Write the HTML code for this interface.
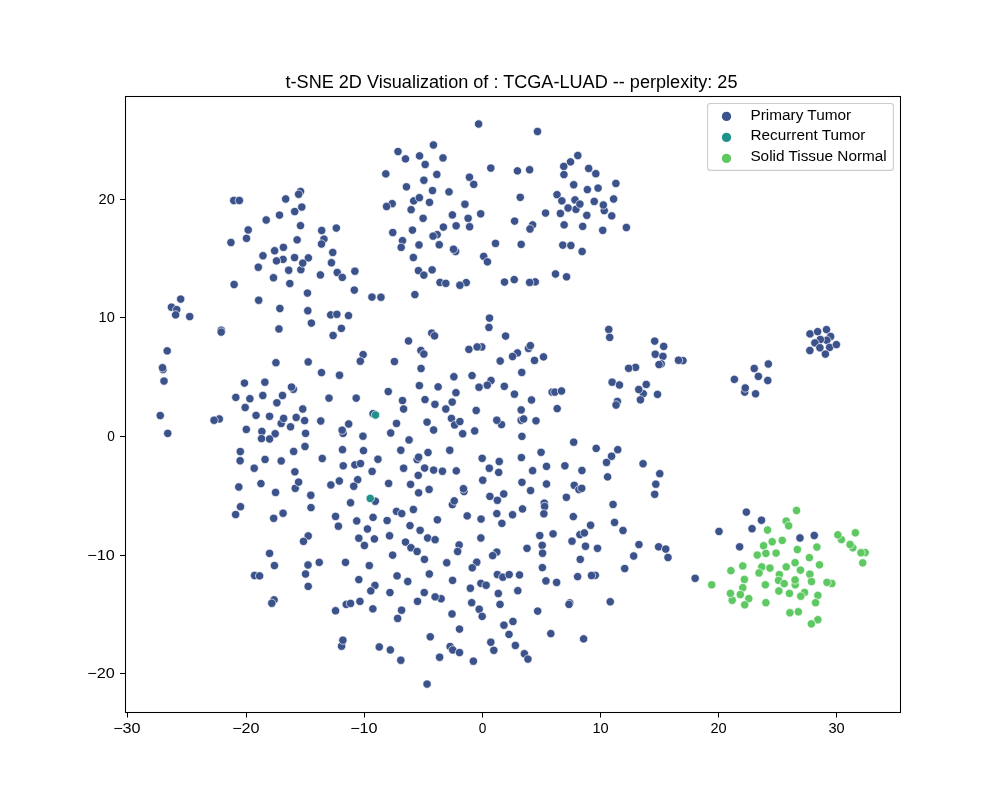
<!DOCTYPE html>
<html><head><meta charset="utf-8"><style>
html,body{margin:0;padding:0;background:#fff;width:1000px;height:800px;overflow:hidden}
svg{display:block;will-change:transform}
text{font-family:"Liberation Sans",sans-serif;fill:#000}
</style></head><body>
<svg width="1000" height="800" viewBox="0 0 1000 800">
<rect width="1000" height="800" fill="#fff"/>
<text x="511.5" y="87.6" text-anchor="middle" font-size="17.5" textLength="452" lengthAdjust="spacingAndGlyphs">t-SNE 2D Visualization of : TCGA-LUAD -- perplexity: 25</text>
<g stroke="#fff" stroke-width="0.667">
<circle cx="233.75" cy="200.50" r="4.167" fill="#3b528b"/>
<circle cx="239.38" cy="200.50" r="4.167" fill="#3b528b"/>
<circle cx="285.69" cy="199.00" r="4.167" fill="#3b528b"/>
<circle cx="279.50" cy="215.12" r="4.167" fill="#3b528b"/>
<circle cx="266.19" cy="220.00" r="4.167" fill="#3b528b"/>
<circle cx="248.19" cy="229.94" r="4.167" fill="#3b528b"/>
<circle cx="246.50" cy="238.38" r="4.167" fill="#3b528b"/>
<circle cx="230.94" cy="242.50" r="4.167" fill="#3b528b"/>
<circle cx="283.44" cy="247.38" r="4.167" fill="#3b528b"/>
<circle cx="274.62" cy="250.75" r="4.167" fill="#3b528b"/>
<circle cx="262.95" cy="255.75" r="4.167" fill="#3b528b"/>
<circle cx="300.50" cy="191.50" r="4.167" fill="#3b528b"/>
<circle cx="298.62" cy="194.31" r="4.167" fill="#3b528b"/>
<circle cx="301.81" cy="207.06" r="4.167" fill="#3b528b"/>
<circle cx="294.69" cy="211.56" r="4.167" fill="#3b528b"/>
<circle cx="300.50" cy="225.62" r="4.167" fill="#3b528b"/>
<circle cx="297.12" cy="239.88" r="4.167" fill="#3b528b"/>
<circle cx="321.69" cy="230.50" r="4.167" fill="#3b528b"/>
<circle cx="336.31" cy="228.06" r="4.167" fill="#3b528b"/>
<circle cx="323.94" cy="239.12" r="4.167" fill="#3b528b"/>
<circle cx="321.50" cy="244.00" r="4.167" fill="#3b528b"/>
<circle cx="332.75" cy="252.44" r="4.167" fill="#3b528b"/>
<circle cx="433.44" cy="145.00" r="4.167" fill="#3b528b"/>
<circle cx="398.00" cy="151.56" r="4.167" fill="#3b528b"/>
<circle cx="405.50" cy="158.88" r="4.167" fill="#3b528b"/>
<circle cx="419.56" cy="155.88" r="4.167" fill="#3b528b"/>
<circle cx="443.00" cy="157.94" r="4.167" fill="#3b528b"/>
<circle cx="425.19" cy="164.50" r="4.167" fill="#3b528b"/>
<circle cx="385.81" cy="173.88" r="4.167" fill="#3b528b"/>
<circle cx="436.81" cy="174.44" r="4.167" fill="#3b528b"/>
<circle cx="423.88" cy="180.25" r="4.167" fill="#3b528b"/>
<circle cx="406.44" cy="186.81" r="4.167" fill="#3b528b"/>
<circle cx="432.50" cy="190.56" r="4.167" fill="#3b528b"/>
<circle cx="413.75" cy="200.88" r="4.167" fill="#3b528b"/>
<circle cx="419.38" cy="197.69" r="4.167" fill="#3b528b"/>
<circle cx="429.50" cy="202.38" r="4.167" fill="#3b528b"/>
<circle cx="392.19" cy="203.69" r="4.167" fill="#3b528b"/>
<circle cx="386.56" cy="206.50" r="4.167" fill="#3b528b"/>
<circle cx="411.12" cy="209.69" r="4.167" fill="#3b528b"/>
<circle cx="423.12" cy="218.31" r="4.167" fill="#3b528b"/>
<circle cx="443.38" cy="227.12" r="4.167" fill="#3b528b"/>
<circle cx="392.75" cy="232.56" r="4.167" fill="#3b528b"/>
<circle cx="412.44" cy="230.12" r="4.167" fill="#3b528b"/>
<circle cx="437.19" cy="234.62" r="4.167" fill="#3b528b"/>
<circle cx="433.06" cy="236.12" r="4.167" fill="#3b528b"/>
<circle cx="402.50" cy="240.62" r="4.167" fill="#3b528b"/>
<circle cx="401.19" cy="247.38" r="4.167" fill="#3b528b"/>
<circle cx="419.00" cy="244.94" r="4.167" fill="#3b528b"/>
<circle cx="439.25" cy="244.75" r="4.167" fill="#3b528b"/>
<circle cx="478.62" cy="124.00" r="4.167" fill="#3b528b"/>
<circle cx="537.50" cy="131.50" r="4.167" fill="#3b528b"/>
<circle cx="490.81" cy="168.06" r="4.167" fill="#3b528b"/>
<circle cx="517.44" cy="170.88" r="4.167" fill="#3b528b"/>
<circle cx="529.62" cy="169.75" r="4.167" fill="#3b528b"/>
<circle cx="469.44" cy="177.25" r="4.167" fill="#3b528b"/>
<circle cx="473.75" cy="184.38" r="4.167" fill="#3b528b"/>
<circle cx="449.00" cy="191.88" r="4.167" fill="#3b528b"/>
<circle cx="464.94" cy="204.25" r="4.167" fill="#3b528b"/>
<circle cx="452.38" cy="214.94" r="4.167" fill="#3b528b"/>
<circle cx="468.12" cy="218.31" r="4.167" fill="#3b528b"/>
<circle cx="480.69" cy="213.81" r="4.167" fill="#3b528b"/>
<circle cx="456.12" cy="225.81" r="4.167" fill="#3b528b"/>
<circle cx="469.62" cy="226.75" r="4.167" fill="#3b528b"/>
<circle cx="520.25" cy="197.31" r="4.167" fill="#3b528b"/>
<circle cx="514.62" cy="221.12" r="4.167" fill="#3b528b"/>
<circle cx="532.62" cy="224.88" r="4.167" fill="#3b528b"/>
<circle cx="530.00" cy="229.00" r="4.167" fill="#3b528b"/>
<circle cx="545.56" cy="213.06" r="4.167" fill="#3b528b"/>
<circle cx="495.50" cy="243.44" r="4.167" fill="#3b528b"/>
<circle cx="521.19" cy="244.38" r="4.167" fill="#3b528b"/>
<circle cx="455.56" cy="251.50" r="4.167" fill="#3b528b"/>
<circle cx="453.50" cy="249.25" r="4.167" fill="#3b528b"/>
<circle cx="577.81" cy="155.50" r="4.167" fill="#3b528b"/>
<circle cx="570.50" cy="161.88" r="4.167" fill="#3b528b"/>
<circle cx="563.75" cy="166.38" r="4.167" fill="#3b528b"/>
<circle cx="588.69" cy="168.44" r="4.167" fill="#3b528b"/>
<circle cx="563.94" cy="174.62" r="4.167" fill="#3b528b"/>
<circle cx="573.69" cy="184.75" r="4.167" fill="#3b528b"/>
<circle cx="587.38" cy="189.62" r="4.167" fill="#3b528b"/>
<circle cx="557.00" cy="194.69" r="4.167" fill="#3b528b"/>
<circle cx="561.88" cy="200.88" r="4.167" fill="#3b528b"/>
<circle cx="575.00" cy="199.94" r="4.167" fill="#3b528b"/>
<circle cx="575.94" cy="209.31" r="4.167" fill="#3b528b"/>
<circle cx="568.06" cy="208.00" r="4.167" fill="#3b528b"/>
<circle cx="579.88" cy="204.06" r="4.167" fill="#3b528b"/>
<circle cx="560.38" cy="213.44" r="4.167" fill="#3b528b"/>
<circle cx="586.81" cy="215.31" r="4.167" fill="#3b528b"/>
<circle cx="564.12" cy="224.88" r="4.167" fill="#3b528b"/>
<circle cx="582.69" cy="226.38" r="4.167" fill="#3b528b"/>
<circle cx="562.81" cy="245.12" r="4.167" fill="#3b528b"/>
<circle cx="570.88" cy="245.50" r="4.167" fill="#3b528b"/>
<circle cx="582.12" cy="251.50" r="4.167" fill="#3b528b"/>
<circle cx="595.81" cy="173.69" r="4.167" fill="#3b528b"/>
<circle cx="615.88" cy="183.44" r="4.167" fill="#3b528b"/>
<circle cx="598.06" cy="188.12" r="4.167" fill="#3b528b"/>
<circle cx="594.25" cy="201.45" r="4.167" fill="#3b528b"/>
<circle cx="613.62" cy="199.00" r="4.167" fill="#3b528b"/>
<circle cx="604.25" cy="210.62" r="4.167" fill="#3b528b"/>
<circle cx="603.31" cy="205.00" r="4.167" fill="#3b528b"/>
<circle cx="611.75" cy="215.88" r="4.167" fill="#3b528b"/>
<circle cx="602.75" cy="230.31" r="4.167" fill="#3b528b"/>
<circle cx="626.38" cy="227.50" r="4.167" fill="#3b528b"/>
<circle cx="283.06" cy="259.38" r="4.167" fill="#3b528b"/>
<circle cx="276.50" cy="260.88" r="4.167" fill="#3b528b"/>
<circle cx="294.55" cy="257.55" r="4.167" fill="#3b528b"/>
<circle cx="258.31" cy="267.25" r="4.167" fill="#3b528b"/>
<circle cx="288.69" cy="270.25" r="4.167" fill="#3b528b"/>
<circle cx="273.50" cy="277.75" r="4.167" fill="#3b528b"/>
<circle cx="289.81" cy="283.56" r="4.167" fill="#3b528b"/>
<circle cx="234.12" cy="284.50" r="4.167" fill="#3b528b"/>
<circle cx="180.69" cy="299.12" r="4.167" fill="#3b528b"/>
<circle cx="171.50" cy="307.19" r="4.167" fill="#3b528b"/>
<circle cx="176.75" cy="309.62" r="4.167" fill="#3b528b"/>
<circle cx="175.62" cy="314.88" r="4.167" fill="#3b528b"/>
<circle cx="189.69" cy="316.56" r="4.167" fill="#3b528b"/>
<circle cx="258.69" cy="300.25" r="4.167" fill="#3b528b"/>
<circle cx="279.88" cy="308.50" r="4.167" fill="#3b528b"/>
<circle cx="221.19" cy="330.25" r="4.167" fill="#3b528b"/>
<circle cx="221.19" cy="332.12" r="4.167" fill="#3b528b"/>
<circle cx="278.94" cy="328.94" r="4.167" fill="#3b528b"/>
<circle cx="167.19" cy="350.88" r="4.167" fill="#3b528b"/>
<circle cx="163.06" cy="369.62" r="4.167" fill="#3b528b"/>
<circle cx="162.50" cy="367.75" r="4.167" fill="#3b528b"/>
<circle cx="164.00" cy="381.06" r="4.167" fill="#3b528b"/>
<circle cx="275.94" cy="362.69" r="4.167" fill="#3b528b"/>
<circle cx="244.44" cy="383.12" r="4.167" fill="#3b528b"/>
<circle cx="264.88" cy="382.19" r="4.167" fill="#3b528b"/>
<circle cx="293.38" cy="389.31" r="4.167" fill="#3b528b"/>
<circle cx="291.50" cy="387.06" r="4.167" fill="#3b528b"/>
<circle cx="235.81" cy="397.38" r="4.167" fill="#3b528b"/>
<circle cx="249.88" cy="398.69" r="4.167" fill="#3b528b"/>
<circle cx="262.81" cy="395.50" r="4.167" fill="#3b528b"/>
<circle cx="282.50" cy="395.50" r="4.167" fill="#3b528b"/>
<circle cx="276.88" cy="402.81" r="4.167" fill="#3b528b"/>
<circle cx="308.38" cy="257.88" r="4.167" fill="#3b528b"/>
<circle cx="413.38" cy="257.50" r="4.167" fill="#3b528b"/>
<circle cx="300.88" cy="269.69" r="4.167" fill="#3b528b"/>
<circle cx="302.75" cy="263.12" r="4.167" fill="#3b528b"/>
<circle cx="331.44" cy="262.75" r="4.167" fill="#3b528b"/>
<circle cx="320.38" cy="274.94" r="4.167" fill="#3b528b"/>
<circle cx="337.25" cy="272.50" r="4.167" fill="#3b528b"/>
<circle cx="342.31" cy="277.38" r="4.167" fill="#3b528b"/>
<circle cx="354.88" cy="271.19" r="4.167" fill="#3b528b"/>
<circle cx="418.44" cy="270.62" r="4.167" fill="#3b528b"/>
<circle cx="423.88" cy="275.12" r="4.167" fill="#3b528b"/>
<circle cx="432.12" cy="269.88" r="4.167" fill="#3b528b"/>
<circle cx="440.00" cy="282.44" r="4.167" fill="#3b528b"/>
<circle cx="307.44" cy="293.12" r="4.167" fill="#3b528b"/>
<circle cx="354.31" cy="290.12" r="4.167" fill="#3b528b"/>
<circle cx="371.94" cy="297.06" r="4.167" fill="#3b528b"/>
<circle cx="380.94" cy="297.25" r="4.167" fill="#3b528b"/>
<circle cx="414.88" cy="294.62" r="4.167" fill="#3b528b"/>
<circle cx="307.81" cy="310.75" r="4.167" fill="#3b528b"/>
<circle cx="330.69" cy="314.88" r="4.167" fill="#3b528b"/>
<circle cx="336.88" cy="314.31" r="4.167" fill="#3b528b"/>
<circle cx="348.50" cy="315.62" r="4.167" fill="#3b528b"/>
<circle cx="311.38" cy="323.12" r="4.167" fill="#3b528b"/>
<circle cx="341.38" cy="328.38" r="4.167" fill="#3b528b"/>
<circle cx="333.12" cy="335.50" r="4.167" fill="#3b528b"/>
<circle cx="431.75" cy="333.06" r="4.167" fill="#3b528b"/>
<circle cx="434.56" cy="335.88" r="4.167" fill="#3b528b"/>
<circle cx="408.50" cy="340.94" r="4.167" fill="#3b528b"/>
<circle cx="420.88" cy="350.50" r="4.167" fill="#3b528b"/>
<circle cx="423.88" cy="354.06" r="4.167" fill="#3b528b"/>
<circle cx="363.12" cy="354.62" r="4.167" fill="#3b528b"/>
<circle cx="360.31" cy="361.19" r="4.167" fill="#3b528b"/>
<circle cx="394.44" cy="361.56" r="4.167" fill="#3b528b"/>
<circle cx="308.19" cy="361.94" r="4.167" fill="#3b528b"/>
<circle cx="321.50" cy="372.62" r="4.167" fill="#3b528b"/>
<circle cx="339.50" cy="375.25" r="4.167" fill="#3b528b"/>
<circle cx="421.06" cy="368.50" r="4.167" fill="#3b528b"/>
<circle cx="419.38" cy="385.56" r="4.167" fill="#3b528b"/>
<circle cx="438.12" cy="386.88" r="4.167" fill="#3b528b"/>
<circle cx="388.25" cy="391.56" r="4.167" fill="#3b528b"/>
<circle cx="329.00" cy="398.12" r="4.167" fill="#3b528b"/>
<circle cx="356.19" cy="398.12" r="4.167" fill="#3b528b"/>
<circle cx="402.50" cy="400.56" r="4.167" fill="#3b528b"/>
<circle cx="425.00" cy="399.62" r="4.167" fill="#3b528b"/>
<circle cx="434.94" cy="404.31" r="4.167" fill="#3b528b"/>
<circle cx="483.69" cy="256.38" r="4.167" fill="#3b528b"/>
<circle cx="487.44" cy="261.81" r="4.167" fill="#3b528b"/>
<circle cx="445.81" cy="283.38" r="4.167" fill="#3b528b"/>
<circle cx="466.25" cy="282.62" r="4.167" fill="#3b528b"/>
<circle cx="459.88" cy="285.25" r="4.167" fill="#3b528b"/>
<circle cx="504.50" cy="282.06" r="4.167" fill="#3b528b"/>
<circle cx="514.25" cy="279.62" r="4.167" fill="#3b528b"/>
<circle cx="535.25" cy="281.88" r="4.167" fill="#3b528b"/>
<circle cx="529.62" cy="282.44" r="4.167" fill="#3b528b"/>
<circle cx="555.50" cy="274.00" r="4.167" fill="#3b528b"/>
<circle cx="566.56" cy="276.81" r="4.167" fill="#3b528b"/>
<circle cx="489.50" cy="318.06" r="4.167" fill="#3b528b"/>
<circle cx="488.94" cy="327.44" r="4.167" fill="#3b528b"/>
<circle cx="505.62" cy="336.06" r="4.167" fill="#3b528b"/>
<circle cx="468.88" cy="349.38" r="4.167" fill="#3b528b"/>
<circle cx="481.81" cy="346.94" r="4.167" fill="#3b528b"/>
<circle cx="477.12" cy="346.94" r="4.167" fill="#3b528b"/>
<circle cx="528.50" cy="348.44" r="4.167" fill="#3b528b"/>
<circle cx="530.38" cy="345.62" r="4.167" fill="#3b528b"/>
<circle cx="517.44" cy="352.94" r="4.167" fill="#3b528b"/>
<circle cx="512.56" cy="356.50" r="4.167" fill="#3b528b"/>
<circle cx="500.19" cy="361.00" r="4.167" fill="#3b528b"/>
<circle cx="534.50" cy="360.44" r="4.167" fill="#3b528b"/>
<circle cx="543.50" cy="356.88" r="4.167" fill="#3b528b"/>
<circle cx="453.88" cy="376.75" r="4.167" fill="#3b528b"/>
<circle cx="472.06" cy="375.62" r="4.167" fill="#3b528b"/>
<circle cx="491.00" cy="380.50" r="4.167" fill="#3b528b"/>
<circle cx="487.25" cy="385.19" r="4.167" fill="#3b528b"/>
<circle cx="479.00" cy="387.25" r="4.167" fill="#3b528b"/>
<circle cx="504.31" cy="386.31" r="4.167" fill="#3b528b"/>
<circle cx="521.75" cy="372.44" r="4.167" fill="#3b528b"/>
<circle cx="514.44" cy="394.19" r="4.167" fill="#3b528b"/>
<circle cx="455.94" cy="392.69" r="4.167" fill="#3b528b"/>
<circle cx="452.19" cy="402.06" r="4.167" fill="#3b528b"/>
<circle cx="531.50" cy="400.00" r="4.167" fill="#3b528b"/>
<circle cx="552.12" cy="392.12" r="4.167" fill="#3b528b"/>
<circle cx="554.94" cy="392.12" r="4.167" fill="#3b528b"/>
<circle cx="561.50" cy="391.00" r="4.167" fill="#3b528b"/>
<circle cx="608.75" cy="329.50" r="4.167" fill="#3b528b"/>
<circle cx="609.69" cy="337.38" r="4.167" fill="#3b528b"/>
<circle cx="654.69" cy="341.12" r="4.167" fill="#3b528b"/>
<circle cx="663.69" cy="346.38" r="4.167" fill="#3b528b"/>
<circle cx="655.25" cy="354.25" r="4.167" fill="#3b528b"/>
<circle cx="662.94" cy="356.31" r="4.167" fill="#3b528b"/>
<circle cx="661.25" cy="363.85" r="4.167" fill="#3b528b"/>
<circle cx="659.00" cy="364.56" r="4.167" fill="#3b528b"/>
<circle cx="683.00" cy="360.62" r="4.167" fill="#3b528b"/>
<circle cx="678.50" cy="360.25" r="4.167" fill="#3b528b"/>
<circle cx="635.56" cy="367.38" r="4.167" fill="#3b528b"/>
<circle cx="628.62" cy="368.31" r="4.167" fill="#3b528b"/>
<circle cx="612.12" cy="382.19" r="4.167" fill="#3b528b"/>
<circle cx="619.44" cy="385.00" r="4.167" fill="#3b528b"/>
<circle cx="646.25" cy="384.44" r="4.167" fill="#3b528b"/>
<circle cx="643.25" cy="393.62" r="4.167" fill="#3b528b"/>
<circle cx="638.75" cy="389.50" r="4.167" fill="#3b528b"/>
<circle cx="640.44" cy="399.81" r="4.167" fill="#3b528b"/>
<circle cx="657.50" cy="394.38" r="4.167" fill="#3b528b"/>
<circle cx="617.38" cy="401.50" r="4.167" fill="#3b528b"/>
<circle cx="616.05" cy="405.05" r="4.167" fill="#3b528b"/>
<circle cx="734.38" cy="379.38" r="4.167" fill="#3b528b"/>
<circle cx="810.00" cy="333.88" r="4.167" fill="#3b528b"/>
<circle cx="817.65" cy="331.62" r="4.167" fill="#3b528b"/>
<circle cx="826.50" cy="329.60" r="4.167" fill="#3b528b"/>
<circle cx="830.62" cy="336.50" r="4.167" fill="#3b528b"/>
<circle cx="826.88" cy="340.25" r="4.167" fill="#3b528b"/>
<circle cx="820.35" cy="339.50" r="4.167" fill="#3b528b"/>
<circle cx="814.88" cy="342.88" r="4.167" fill="#3b528b"/>
<circle cx="819.90" cy="347.75" r="4.167" fill="#3b528b"/>
<circle cx="829.65" cy="347.38" r="4.167" fill="#3b528b"/>
<circle cx="836.40" cy="344.60" r="4.167" fill="#3b528b"/>
<circle cx="809.85" cy="350.52" r="4.167" fill="#3b528b"/>
<circle cx="825.38" cy="354.12" r="4.167" fill="#3b528b"/>
<circle cx="768.31" cy="364.00" r="4.167" fill="#3b528b"/>
<circle cx="754.25" cy="368.50" r="4.167" fill="#3b528b"/>
<circle cx="758.38" cy="376.38" r="4.167" fill="#3b528b"/>
<circle cx="767.75" cy="380.50" r="4.167" fill="#3b528b"/>
<circle cx="744.69" cy="392.12" r="4.167" fill="#3b528b"/>
<circle cx="745.25" cy="388.00" r="4.167" fill="#3b528b"/>
<circle cx="755.56" cy="393.81" r="4.167" fill="#3b528b"/>
<circle cx="245.19" cy="407.50" r="4.167" fill="#3b528b"/>
<circle cx="160.25" cy="415.56" r="4.167" fill="#3b528b"/>
<circle cx="167.75" cy="433.38" r="4.167" fill="#3b528b"/>
<circle cx="219.31" cy="418.94" r="4.167" fill="#3b528b"/>
<circle cx="214.06" cy="420.25" r="4.167" fill="#3b528b"/>
<circle cx="256.06" cy="415.38" r="4.167" fill="#3b528b"/>
<circle cx="269.56" cy="416.31" r="4.167" fill="#3b528b"/>
<circle cx="281.19" cy="423.44" r="4.167" fill="#3b528b"/>
<circle cx="283.62" cy="418.38" r="4.167" fill="#3b528b"/>
<circle cx="290.56" cy="426.81" r="4.167" fill="#3b528b"/>
<circle cx="246.31" cy="429.44" r="4.167" fill="#3b528b"/>
<circle cx="261.88" cy="431.50" r="4.167" fill="#3b528b"/>
<circle cx="275.19" cy="433.75" r="4.167" fill="#3b528b"/>
<circle cx="261.50" cy="438.62" r="4.167" fill="#3b528b"/>
<circle cx="269.56" cy="439.00" r="4.167" fill="#3b528b"/>
<circle cx="240.31" cy="451.56" r="4.167" fill="#3b528b"/>
<circle cx="240.12" cy="460.75" r="4.167" fill="#3b528b"/>
<circle cx="265.06" cy="459.44" r="4.167" fill="#3b528b"/>
<circle cx="281.19" cy="460.94" r="4.167" fill="#3b528b"/>
<circle cx="254.19" cy="468.25" r="4.167" fill="#3b528b"/>
<circle cx="238.81" cy="487.00" r="4.167" fill="#3b528b"/>
<circle cx="260.94" cy="483.62" r="4.167" fill="#3b528b"/>
<circle cx="275.56" cy="492.44" r="4.167" fill="#3b528b"/>
<circle cx="240.50" cy="506.69" r="4.167" fill="#3b528b"/>
<circle cx="235.62" cy="514.56" r="4.167" fill="#3b528b"/>
<circle cx="283.06" cy="513.25" r="4.167" fill="#3b528b"/>
<circle cx="273.69" cy="518.31" r="4.167" fill="#3b528b"/>
<circle cx="269.56" cy="553.38" r="4.167" fill="#3b528b"/>
<circle cx="302.75" cy="409.00" r="4.167" fill="#3b528b"/>
<circle cx="403.62" cy="409.00" r="4.167" fill="#3b528b"/>
<circle cx="296.19" cy="417.44" r="4.167" fill="#3b528b"/>
<circle cx="304.62" cy="420.62" r="4.167" fill="#3b528b"/>
<circle cx="320.75" cy="421.00" r="4.167" fill="#3b528b"/>
<circle cx="373.06" cy="413.69" r="4.167" fill="#3b528b"/>
<circle cx="348.69" cy="424.00" r="4.167" fill="#3b528b"/>
<circle cx="396.50" cy="423.44" r="4.167" fill="#3b528b"/>
<circle cx="427.06" cy="422.12" r="4.167" fill="#3b528b"/>
<circle cx="433.62" cy="430.00" r="4.167" fill="#3b528b"/>
<circle cx="343.06" cy="433.38" r="4.167" fill="#3b528b"/>
<circle cx="342.12" cy="430.19" r="4.167" fill="#3b528b"/>
<circle cx="305.56" cy="433.38" r="4.167" fill="#3b528b"/>
<circle cx="362.94" cy="436.19" r="4.167" fill="#3b528b"/>
<circle cx="390.69" cy="433.00" r="4.167" fill="#3b528b"/>
<circle cx="409.06" cy="439.94" r="4.167" fill="#3b528b"/>
<circle cx="305.00" cy="446.50" r="4.167" fill="#3b528b"/>
<circle cx="293.65" cy="451.45" r="4.167" fill="#3b528b"/>
<circle cx="342.50" cy="449.69" r="4.167" fill="#3b528b"/>
<circle cx="363.50" cy="450.62" r="4.167" fill="#3b528b"/>
<circle cx="400.81" cy="450.25" r="4.167" fill="#3b528b"/>
<circle cx="428.00" cy="452.50" r="4.167" fill="#3b528b"/>
<circle cx="322.25" cy="458.50" r="4.167" fill="#3b528b"/>
<circle cx="377.94" cy="459.25" r="4.167" fill="#3b528b"/>
<circle cx="417.12" cy="459.62" r="4.167" fill="#3b528b"/>
<circle cx="418.62" cy="457.19" r="4.167" fill="#3b528b"/>
<circle cx="343.25" cy="465.81" r="4.167" fill="#3b528b"/>
<circle cx="354.88" cy="464.88" r="4.167" fill="#3b528b"/>
<circle cx="360.50" cy="463.56" r="4.167" fill="#3b528b"/>
<circle cx="372.12" cy="471.44" r="4.167" fill="#3b528b"/>
<circle cx="403.62" cy="468.25" r="4.167" fill="#3b528b"/>
<circle cx="424.62" cy="468.06" r="4.167" fill="#3b528b"/>
<circle cx="433.62" cy="470.12" r="4.167" fill="#3b528b"/>
<circle cx="442.44" cy="471.25" r="4.167" fill="#3b528b"/>
<circle cx="294.88" cy="471.81" r="4.167" fill="#3b528b"/>
<circle cx="295.25" cy="488.31" r="4.167" fill="#3b528b"/>
<circle cx="298.62" cy="482.12" r="4.167" fill="#3b528b"/>
<circle cx="330.88" cy="484.94" r="4.167" fill="#3b528b"/>
<circle cx="339.31" cy="481.00" r="4.167" fill="#3b528b"/>
<circle cx="357.69" cy="479.69" r="4.167" fill="#3b528b"/>
<circle cx="353.75" cy="486.25" r="4.167" fill="#3b528b"/>
<circle cx="388.62" cy="483.44" r="4.167" fill="#3b528b"/>
<circle cx="418.25" cy="475.38" r="4.167" fill="#3b528b"/>
<circle cx="410.56" cy="484.38" r="4.167" fill="#3b528b"/>
<circle cx="429.12" cy="489.44" r="4.167" fill="#3b528b"/>
<circle cx="418.62" cy="492.81" r="4.167" fill="#3b528b"/>
<circle cx="310.81" cy="495.25" r="4.167" fill="#3b528b"/>
<circle cx="311.00" cy="507.62" r="4.167" fill="#3b528b"/>
<circle cx="350.56" cy="502.75" r="4.167" fill="#3b528b"/>
<circle cx="375.31" cy="501.25" r="4.167" fill="#3b528b"/>
<circle cx="396.50" cy="511.38" r="4.167" fill="#3b528b"/>
<circle cx="401.75" cy="513.62" r="4.167" fill="#3b528b"/>
<circle cx="413.38" cy="509.50" r="4.167" fill="#3b528b"/>
<circle cx="335.56" cy="516.44" r="4.167" fill="#3b528b"/>
<circle cx="338.38" cy="526.19" r="4.167" fill="#3b528b"/>
<circle cx="356.75" cy="520.94" r="4.167" fill="#3b528b"/>
<circle cx="373.06" cy="517.38" r="4.167" fill="#3b528b"/>
<circle cx="387.12" cy="520.56" r="4.167" fill="#3b528b"/>
<circle cx="367.44" cy="529.00" r="4.167" fill="#3b528b"/>
<circle cx="410.00" cy="525.62" r="4.167" fill="#3b528b"/>
<circle cx="420.12" cy="530.31" r="4.167" fill="#3b528b"/>
<circle cx="437.38" cy="519.81" r="4.167" fill="#3b528b"/>
<circle cx="308.19" cy="535.94" r="4.167" fill="#3b528b"/>
<circle cx="303.50" cy="541.38" r="4.167" fill="#3b528b"/>
<circle cx="358.81" cy="538.19" r="4.167" fill="#3b528b"/>
<circle cx="374.38" cy="538.94" r="4.167" fill="#3b528b"/>
<circle cx="389.56" cy="535.75" r="4.167" fill="#3b528b"/>
<circle cx="364.44" cy="545.50" r="4.167" fill="#3b528b"/>
<circle cx="405.50" cy="542.12" r="4.167" fill="#3b528b"/>
<circle cx="410.94" cy="547.75" r="4.167" fill="#3b528b"/>
<circle cx="417.12" cy="551.50" r="4.167" fill="#3b528b"/>
<circle cx="427.62" cy="538.00" r="4.167" fill="#3b528b"/>
<circle cx="435.12" cy="539.69" r="4.167" fill="#3b528b"/>
<circle cx="392.65" cy="555.15" r="4.167" fill="#3b528b"/>
<circle cx="445.81" cy="409.00" r="4.167" fill="#3b528b"/>
<circle cx="476.19" cy="410.50" r="4.167" fill="#3b528b"/>
<circle cx="521.19" cy="409.94" r="4.167" fill="#3b528b"/>
<circle cx="557.19" cy="408.62" r="4.167" fill="#3b528b"/>
<circle cx="451.44" cy="418.38" r="4.167" fill="#3b528b"/>
<circle cx="454.62" cy="424.94" r="4.167" fill="#3b528b"/>
<circle cx="459.88" cy="421.56" r="4.167" fill="#3b528b"/>
<circle cx="501.50" cy="424.56" r="4.167" fill="#3b528b"/>
<circle cx="496.81" cy="420.25" r="4.167" fill="#3b528b"/>
<circle cx="521.19" cy="420.25" r="4.167" fill="#3b528b"/>
<circle cx="523.62" cy="418.94" r="4.167" fill="#3b528b"/>
<circle cx="536.00" cy="420.81" r="4.167" fill="#3b528b"/>
<circle cx="474.69" cy="430.94" r="4.167" fill="#3b528b"/>
<circle cx="462.69" cy="433.75" r="4.167" fill="#3b528b"/>
<circle cx="521.94" cy="436.38" r="4.167" fill="#3b528b"/>
<circle cx="573.69" cy="442.19" r="4.167" fill="#3b528b"/>
<circle cx="449.75" cy="450.25" r="4.167" fill="#3b528b"/>
<circle cx="541.06" cy="452.31" r="4.167" fill="#3b528b"/>
<circle cx="482.19" cy="458.31" r="4.167" fill="#3b528b"/>
<circle cx="499.25" cy="461.50" r="4.167" fill="#3b528b"/>
<circle cx="521.38" cy="457.56" r="4.167" fill="#3b528b"/>
<circle cx="489.31" cy="468.25" r="4.167" fill="#3b528b"/>
<circle cx="498.69" cy="472.38" r="4.167" fill="#3b528b"/>
<circle cx="532.62" cy="470.69" r="4.167" fill="#3b528b"/>
<circle cx="546.50" cy="466.38" r="4.167" fill="#3b528b"/>
<circle cx="564.88" cy="465.81" r="4.167" fill="#3b528b"/>
<circle cx="581.94" cy="470.50" r="4.167" fill="#3b528b"/>
<circle cx="456.31" cy="470.88" r="4.167" fill="#3b528b"/>
<circle cx="482.75" cy="480.25" r="4.167" fill="#3b528b"/>
<circle cx="521.94" cy="482.31" r="4.167" fill="#3b528b"/>
<circle cx="546.50" cy="484.00" r="4.167" fill="#3b528b"/>
<circle cx="530.56" cy="490.56" r="4.167" fill="#3b528b"/>
<circle cx="574.25" cy="485.31" r="4.167" fill="#3b528b"/>
<circle cx="578.94" cy="489.62" r="4.167" fill="#3b528b"/>
<circle cx="581.75" cy="488.31" r="4.167" fill="#3b528b"/>
<circle cx="464.00" cy="491.50" r="4.167" fill="#3b528b"/>
<circle cx="463.44" cy="488.69" r="4.167" fill="#3b528b"/>
<circle cx="489.88" cy="496.38" r="4.167" fill="#3b528b"/>
<circle cx="503.75" cy="493.94" r="4.167" fill="#3b528b"/>
<circle cx="497.38" cy="500.31" r="4.167" fill="#3b528b"/>
<circle cx="566.38" cy="497.31" r="4.167" fill="#3b528b"/>
<circle cx="452.38" cy="504.62" r="4.167" fill="#3b528b"/>
<circle cx="454.25" cy="500.88" r="4.167" fill="#3b528b"/>
<circle cx="544.25" cy="503.12" r="4.167" fill="#3b528b"/>
<circle cx="544.62" cy="506.50" r="4.167" fill="#3b528b"/>
<circle cx="522.50" cy="508.94" r="4.167" fill="#3b528b"/>
<circle cx="543.88" cy="513.81" r="4.167" fill="#3b528b"/>
<circle cx="467.19" cy="515.88" r="4.167" fill="#3b528b"/>
<circle cx="481.06" cy="519.06" r="4.167" fill="#3b528b"/>
<circle cx="496.81" cy="513.62" r="4.167" fill="#3b528b"/>
<circle cx="512.56" cy="514.75" r="4.167" fill="#3b528b"/>
<circle cx="501.88" cy="523.38" r="4.167" fill="#3b528b"/>
<circle cx="573.31" cy="516.62" r="4.167" fill="#3b528b"/>
<circle cx="590.56" cy="525.25" r="4.167" fill="#3b528b"/>
<circle cx="579.88" cy="534.62" r="4.167" fill="#3b528b"/>
<circle cx="584.38" cy="532.94" r="4.167" fill="#3b528b"/>
<circle cx="539.75" cy="535.56" r="4.167" fill="#3b528b"/>
<circle cx="553.06" cy="533.88" r="4.167" fill="#3b528b"/>
<circle cx="480.88" cy="538.00" r="4.167" fill="#3b528b"/>
<circle cx="572.00" cy="541.19" r="4.167" fill="#3b528b"/>
<circle cx="585.50" cy="546.25" r="4.167" fill="#3b528b"/>
<circle cx="459.12" cy="544.94" r="4.167" fill="#3b528b"/>
<circle cx="457.62" cy="551.50" r="4.167" fill="#3b528b"/>
<circle cx="496.81" cy="552.06" r="4.167" fill="#3b528b"/>
<circle cx="492.65" cy="555.65" r="4.167" fill="#3b528b"/>
<circle cx="527.00" cy="548.31" r="4.167" fill="#3b528b"/>
<circle cx="542.19" cy="545.31" r="4.167" fill="#3b528b"/>
<circle cx="542.55" cy="553.25" r="4.167" fill="#3b528b"/>
<circle cx="596.19" cy="448.38" r="4.167" fill="#3b528b"/>
<circle cx="617.75" cy="449.69" r="4.167" fill="#3b528b"/>
<circle cx="611.56" cy="456.25" r="4.167" fill="#3b528b"/>
<circle cx="606.50" cy="462.44" r="4.167" fill="#3b528b"/>
<circle cx="643.06" cy="463.75" r="4.167" fill="#3b528b"/>
<circle cx="659.75" cy="473.69" r="4.167" fill="#3b528b"/>
<circle cx="607.62" cy="476.88" r="4.167" fill="#3b528b"/>
<circle cx="655.81" cy="484.19" r="4.167" fill="#3b528b"/>
<circle cx="654.69" cy="494.31" r="4.167" fill="#3b528b"/>
<circle cx="613.06" cy="504.44" r="4.167" fill="#3b528b"/>
<circle cx="614.56" cy="522.44" r="4.167" fill="#3b528b"/>
<circle cx="623.00" cy="530.50" r="4.167" fill="#3b528b"/>
<circle cx="719.00" cy="531.44" r="4.167" fill="#3b528b"/>
<circle cx="597.50" cy="548.31" r="4.167" fill="#3b528b"/>
<circle cx="638.94" cy="544.56" r="4.167" fill="#3b528b"/>
<circle cx="658.62" cy="546.81" r="4.167" fill="#3b528b"/>
<circle cx="665.75" cy="549.06" r="4.167" fill="#3b528b"/>
<circle cx="739.62" cy="546.81" r="4.167" fill="#3b528b"/>
<circle cx="746.35" cy="512.12" r="4.167" fill="#3b528b"/>
<circle cx="761.47" cy="520.25" r="4.167" fill="#3b528b"/>
<circle cx="752.04" cy="528.71" r="4.167" fill="#3b528b"/>
<circle cx="695.13" cy="578.30" r="4.167" fill="#3b528b"/>
<circle cx="799.97" cy="537.97" r="4.167" fill="#3b528b"/>
<circle cx="814.27" cy="535.53" r="4.167" fill="#3b528b"/>
<circle cx="274.44" cy="565.56" r="4.167" fill="#3b528b"/>
<circle cx="254.56" cy="575.50" r="4.167" fill="#3b528b"/>
<circle cx="259.62" cy="575.88" r="4.167" fill="#3b528b"/>
<circle cx="274.06" cy="599.88" r="4.167" fill="#3b528b"/>
<circle cx="271.81" cy="603.25" r="4.167" fill="#3b528b"/>
<circle cx="308.00" cy="565.00" r="4.167" fill="#3b528b"/>
<circle cx="319.25" cy="562.38" r="4.167" fill="#3b528b"/>
<circle cx="345.50" cy="562.38" r="4.167" fill="#3b528b"/>
<circle cx="369.31" cy="565.56" r="4.167" fill="#3b528b"/>
<circle cx="305.56" cy="574.00" r="4.167" fill="#3b528b"/>
<circle cx="424.44" cy="559.38" r="4.167" fill="#3b528b"/>
<circle cx="429.31" cy="574.00" r="4.167" fill="#3b528b"/>
<circle cx="397.06" cy="575.88" r="4.167" fill="#3b528b"/>
<circle cx="407.75" cy="581.50" r="4.167" fill="#3b528b"/>
<circle cx="358.81" cy="579.62" r="4.167" fill="#3b528b"/>
<circle cx="308.19" cy="586.38" r="4.167" fill="#3b528b"/>
<circle cx="374.94" cy="585.44" r="4.167" fill="#3b528b"/>
<circle cx="370.81" cy="590.88" r="4.167" fill="#3b528b"/>
<circle cx="389.94" cy="592.56" r="4.167" fill="#3b528b"/>
<circle cx="424.25" cy="592.56" r="4.167" fill="#3b528b"/>
<circle cx="441.12" cy="598.75" r="4.167" fill="#3b528b"/>
<circle cx="435.12" cy="596.88" r="4.167" fill="#3b528b"/>
<circle cx="417.50" cy="601.38" r="4.167" fill="#3b528b"/>
<circle cx="359.94" cy="601.38" r="4.167" fill="#3b528b"/>
<circle cx="346.25" cy="604.38" r="4.167" fill="#3b528b"/>
<circle cx="350.56" cy="603.44" r="4.167" fill="#3b528b"/>
<circle cx="335.56" cy="610.75" r="4.167" fill="#3b528b"/>
<circle cx="372.88" cy="608.88" r="4.167" fill="#3b528b"/>
<circle cx="401.56" cy="610.19" r="4.167" fill="#3b528b"/>
<circle cx="397.62" cy="618.44" r="4.167" fill="#3b528b"/>
<circle cx="430.25" cy="636.81" r="4.167" fill="#3b528b"/>
<circle cx="341.56" cy="646.19" r="4.167" fill="#3b528b"/>
<circle cx="342.88" cy="640.19" r="4.167" fill="#3b528b"/>
<circle cx="379.25" cy="646.94" r="4.167" fill="#3b528b"/>
<circle cx="390.31" cy="649.94" r="4.167" fill="#3b528b"/>
<circle cx="400.81" cy="660.25" r="4.167" fill="#3b528b"/>
<circle cx="439.62" cy="657.25" r="4.167" fill="#3b528b"/>
<circle cx="427.06" cy="684.06" r="4.167" fill="#3b528b"/>
<circle cx="446.75" cy="562.75" r="4.167" fill="#3b528b"/>
<circle cx="476.75" cy="562.19" r="4.167" fill="#3b528b"/>
<circle cx="472.25" cy="567.81" r="4.167" fill="#3b528b"/>
<circle cx="452.56" cy="580.38" r="4.167" fill="#3b528b"/>
<circle cx="497.38" cy="574.56" r="4.167" fill="#3b528b"/>
<circle cx="502.81" cy="577.19" r="4.167" fill="#3b528b"/>
<circle cx="509.19" cy="574.56" r="4.167" fill="#3b528b"/>
<circle cx="519.50" cy="574.94" r="4.167" fill="#3b528b"/>
<circle cx="542.38" cy="567.62" r="4.167" fill="#3b528b"/>
<circle cx="580.25" cy="559.38" r="4.167" fill="#3b528b"/>
<circle cx="545.94" cy="580.94" r="4.167" fill="#3b528b"/>
<circle cx="556.62" cy="582.44" r="4.167" fill="#3b528b"/>
<circle cx="577.62" cy="576.62" r="4.167" fill="#3b528b"/>
<circle cx="595.25" cy="575.31" r="4.167" fill="#3b528b"/>
<circle cx="470.38" cy="588.25" r="4.167" fill="#3b528b"/>
<circle cx="480.88" cy="583.38" r="4.167" fill="#3b528b"/>
<circle cx="486.12" cy="585.25" r="4.167" fill="#3b528b"/>
<circle cx="498.31" cy="593.50" r="4.167" fill="#3b528b"/>
<circle cx="517.81" cy="590.69" r="4.167" fill="#3b528b"/>
<circle cx="471.69" cy="602.69" r="4.167" fill="#3b528b"/>
<circle cx="500.00" cy="604.38" r="4.167" fill="#3b528b"/>
<circle cx="479.19" cy="609.25" r="4.167" fill="#3b528b"/>
<circle cx="482.19" cy="616.38" r="4.167" fill="#3b528b"/>
<circle cx="452.00" cy="613.94" r="4.167" fill="#3b528b"/>
<circle cx="537.69" cy="611.12" r="4.167" fill="#3b528b"/>
<circle cx="569.75" cy="602.85" r="4.167" fill="#3b528b"/>
<circle cx="569.00" cy="604.38" r="4.167" fill="#3b528b"/>
<circle cx="459.50" cy="629.12" r="4.167" fill="#3b528b"/>
<circle cx="503.94" cy="625.19" r="4.167" fill="#3b528b"/>
<circle cx="512.94" cy="621.44" r="4.167" fill="#3b528b"/>
<circle cx="509.00" cy="634.38" r="4.167" fill="#3b528b"/>
<circle cx="550.81" cy="633.62" r="4.167" fill="#3b528b"/>
<circle cx="583.62" cy="638.88" r="4.167" fill="#3b528b"/>
<circle cx="490.81" cy="642.25" r="4.167" fill="#3b528b"/>
<circle cx="493.81" cy="650.31" r="4.167" fill="#3b528b"/>
<circle cx="515.38" cy="645.44" r="4.167" fill="#3b528b"/>
<circle cx="450.12" cy="646.56" r="4.167" fill="#3b528b"/>
<circle cx="452.75" cy="649.94" r="4.167" fill="#3b528b"/>
<circle cx="459.50" cy="652.56" r="4.167" fill="#3b528b"/>
<circle cx="524.38" cy="653.69" r="4.167" fill="#3b528b"/>
<circle cx="527.94" cy="659.12" r="4.167" fill="#3b528b"/>
<circle cx="473.38" cy="661.19" r="4.167" fill="#3b528b"/>
<circle cx="633.69" cy="556.00" r="4.167" fill="#3b528b"/>
<circle cx="668.00" cy="557.50" r="4.167" fill="#3b528b"/>
<circle cx="591.50" cy="575.50" r="4.167" fill="#3b528b"/>
<circle cx="624.69" cy="568.56" r="4.167" fill="#3b528b"/>
<circle cx="610.25" cy="601.75" r="4.167" fill="#3b528b"/>
<circle cx="375.50" cy="415.00" r="4.167" fill="#21918c"/>
<circle cx="370.25" cy="498.44" r="4.167" fill="#21918c"/>
<circle cx="786.18" cy="521.06" r="4.167" fill="#5ec962"/>
<circle cx="788.62" cy="525.78" r="4.167" fill="#5ec962"/>
<circle cx="767.49" cy="530.01" r="4.167" fill="#5ec962"/>
<circle cx="772.20" cy="541.71" r="4.167" fill="#5ec962"/>
<circle cx="782.28" cy="540.41" r="4.167" fill="#5ec962"/>
<circle cx="763.58" cy="545.78" r="4.167" fill="#5ec962"/>
<circle cx="765.86" cy="553.42" r="4.167" fill="#5ec962"/>
<circle cx="757.24" cy="555.05" r="4.167" fill="#5ec962"/>
<circle cx="776.10" cy="553.10" r="4.167" fill="#5ec962"/>
<circle cx="742.77" cy="565.94" r="4.167" fill="#5ec962"/>
<circle cx="730.90" cy="570.66" r="4.167" fill="#5ec962"/>
<circle cx="761.79" cy="566.92" r="4.167" fill="#5ec962"/>
<circle cx="769.92" cy="568.05" r="4.167" fill="#5ec962"/>
<circle cx="786.18" cy="566.92" r="4.167" fill="#5ec962"/>
<circle cx="759.03" cy="572.93" r="4.167" fill="#5ec962"/>
<circle cx="779.36" cy="574.56" r="4.167" fill="#5ec962"/>
<circle cx="744.40" cy="579.44" r="4.167" fill="#5ec962"/>
<circle cx="778.54" cy="580.41" r="4.167" fill="#5ec962"/>
<circle cx="784.23" cy="583.66" r="4.167" fill="#5ec962"/>
<circle cx="711.71" cy="584.80" r="4.167" fill="#5ec962"/>
<circle cx="765.37" cy="584.80" r="4.167" fill="#5ec962"/>
<circle cx="742.77" cy="587.73" r="4.167" fill="#5ec962"/>
<circle cx="778.87" cy="590.98" r="4.167" fill="#5ec962"/>
<circle cx="789.44" cy="593.42" r="4.167" fill="#5ec962"/>
<circle cx="732.20" cy="600.25" r="4.167" fill="#5ec962"/>
<circle cx="740.33" cy="594.56" r="4.167" fill="#5ec962"/>
<circle cx="748.79" cy="598.62" r="4.167" fill="#5ec962"/>
<circle cx="730.41" cy="593.42" r="4.167" fill="#5ec962"/>
<circle cx="744.72" cy="604.80" r="4.167" fill="#5ec962"/>
<circle cx="765.86" cy="602.69" r="4.167" fill="#5ec962"/>
<circle cx="796.55" cy="510.49" r="4.167" fill="#5ec962"/>
<circle cx="797.36" cy="549.52" r="4.167" fill="#5ec962"/>
<circle cx="816.88" cy="547.08" r="4.167" fill="#5ec962"/>
<circle cx="809.40" cy="557.65" r="4.167" fill="#5ec962"/>
<circle cx="795.09" cy="562.69" r="4.167" fill="#5ec962"/>
<circle cx="819.48" cy="564.80" r="4.167" fill="#5ec962"/>
<circle cx="800.45" cy="570.17" r="4.167" fill="#5ec962"/>
<circle cx="809.88" cy="574.23" r="4.167" fill="#5ec962"/>
<circle cx="795.25" cy="584.80" r="4.167" fill="#5ec962"/>
<circle cx="795.09" cy="579.92" r="4.167" fill="#5ec962"/>
<circle cx="811.51" cy="581.55" r="4.167" fill="#5ec962"/>
<circle cx="831.84" cy="583.50" r="4.167" fill="#5ec962"/>
<circle cx="826.96" cy="582.36" r="4.167" fill="#5ec962"/>
<circle cx="804.52" cy="592.45" r="4.167" fill="#5ec962"/>
<circle cx="800.78" cy="596.18" r="4.167" fill="#5ec962"/>
<circle cx="817.85" cy="595.37" r="4.167" fill="#5ec962"/>
<circle cx="815.58" cy="602.69" r="4.167" fill="#5ec962"/>
<circle cx="798.34" cy="611.79" r="4.167" fill="#5ec962"/>
<circle cx="789.88" cy="612.77" r="4.167" fill="#5ec962"/>
<circle cx="817.85" cy="619.76" r="4.167" fill="#5ec962"/>
<circle cx="811.35" cy="623.83" r="4.167" fill="#5ec962"/>
<circle cx="841.43" cy="539.60" r="4.167" fill="#5ec962"/>
<circle cx="837.85" cy="534.88" r="4.167" fill="#5ec962"/>
<circle cx="855.41" cy="532.77" r="4.167" fill="#5ec962"/>
<circle cx="852.81" cy="547.73" r="4.167" fill="#5ec962"/>
<circle cx="850.05" cy="544.48" r="4.167" fill="#5ec962"/>
<circle cx="865.17" cy="552.61" r="4.167" fill="#5ec962"/>
<circle cx="860.94" cy="552.77" r="4.167" fill="#5ec962"/>
<circle cx="862.73" cy="562.85" r="4.167" fill="#5ec962"/>
</g>
<rect x="125.5" y="96.5" width="775" height="616" fill="none" stroke="#000" stroke-width="1.05"/>
<g font-size="14">
<line x1="127.5" y1="712.5" x2="127.5" y2="717.5" stroke="#000" stroke-width="1"/>
<text x="126.9" y="732.6" text-anchor="middle" textLength="27.5" lengthAdjust="spacingAndGlyphs">−30</text>
<line x1="246.5" y1="712.5" x2="246.5" y2="717.5" stroke="#000" stroke-width="1"/>
<text x="245.9" y="732.6" text-anchor="middle" textLength="27.5" lengthAdjust="spacingAndGlyphs">−20</text>
<line x1="364.5" y1="712.5" x2="364.5" y2="717.5" stroke="#000" stroke-width="1"/>
<text x="363.9" y="732.6" text-anchor="middle" textLength="27.5" lengthAdjust="spacingAndGlyphs">−10</text>
<line x1="482.5" y1="712.5" x2="482.5" y2="717.5" stroke="#000" stroke-width="1"/>
<text x="482.5" y="732.6" text-anchor="middle" textLength="7.6" lengthAdjust="spacingAndGlyphs">0</text>
<line x1="600.5" y1="712.5" x2="600.5" y2="717.5" stroke="#000" stroke-width="1"/>
<text x="600.5" y="732.6" text-anchor="middle" textLength="16.2" lengthAdjust="spacingAndGlyphs">10</text>
<line x1="718.5" y1="712.5" x2="718.5" y2="717.5" stroke="#000" stroke-width="1"/>
<text x="718.5" y="732.6" text-anchor="middle" textLength="16.2" lengthAdjust="spacingAndGlyphs">20</text>
<line x1="836.5" y1="712.5" x2="836.5" y2="717.5" stroke="#000" stroke-width="1"/>
<text x="836.5" y="732.6" text-anchor="middle" textLength="16.2" lengthAdjust="spacingAndGlyphs">30</text>
<line x1="120" y1="673.5" x2="125.5" y2="673.5" stroke="#000" stroke-width="1"/>
<text x="114.8" y="678.1" text-anchor="end" textLength="27.5" lengthAdjust="spacingAndGlyphs">−20</text>
<line x1="120" y1="555.5" x2="125.5" y2="555.5" stroke="#000" stroke-width="1"/>
<text x="114.8" y="560.1" text-anchor="end" textLength="27.5" lengthAdjust="spacingAndGlyphs">−10</text>
<line x1="120" y1="436.5" x2="125.5" y2="436.5" stroke="#000" stroke-width="1"/>
<text x="114.8" y="441.1" text-anchor="end" textLength="7.6" lengthAdjust="spacingAndGlyphs">0</text>
<line x1="120" y1="317.5" x2="125.5" y2="317.5" stroke="#000" stroke-width="1"/>
<text x="114.8" y="322.1" text-anchor="end" textLength="16.2" lengthAdjust="spacingAndGlyphs">10</text>
<line x1="120" y1="199.5" x2="125.5" y2="199.5" stroke="#000" stroke-width="1"/>
<text x="114.8" y="204.1" text-anchor="end" textLength="16.2" lengthAdjust="spacingAndGlyphs">20</text>
</g>
<rect x="707.6" y="103.5" width="185.8" height="66.9" rx="2.8" ry="2.8" fill="#fff" fill-opacity="0.8" stroke="#cccccc" stroke-width="1.11"/>
<g>
<circle cx="726.5" cy="116.4" r="4.65" fill="#3b528b"/>
<circle cx="726.5" cy="137.4" r="4.65" fill="#21918c"/>
<circle cx="726.5" cy="158.4" r="4.65" fill="#5ec962"/>
</g>
<g font-size="14">
<text x="750.4" y="119.5" textLength="100.8" lengthAdjust="spacingAndGlyphs">Primary Tumor</text>
<text x="750.4" y="140.3" textLength="115" lengthAdjust="spacingAndGlyphs">Recurrent Tumor</text>
<text x="750.4" y="161.3" textLength="136.4" lengthAdjust="spacingAndGlyphs">Solid Tissue Normal</text>
</g>
</svg>
</body></html>
